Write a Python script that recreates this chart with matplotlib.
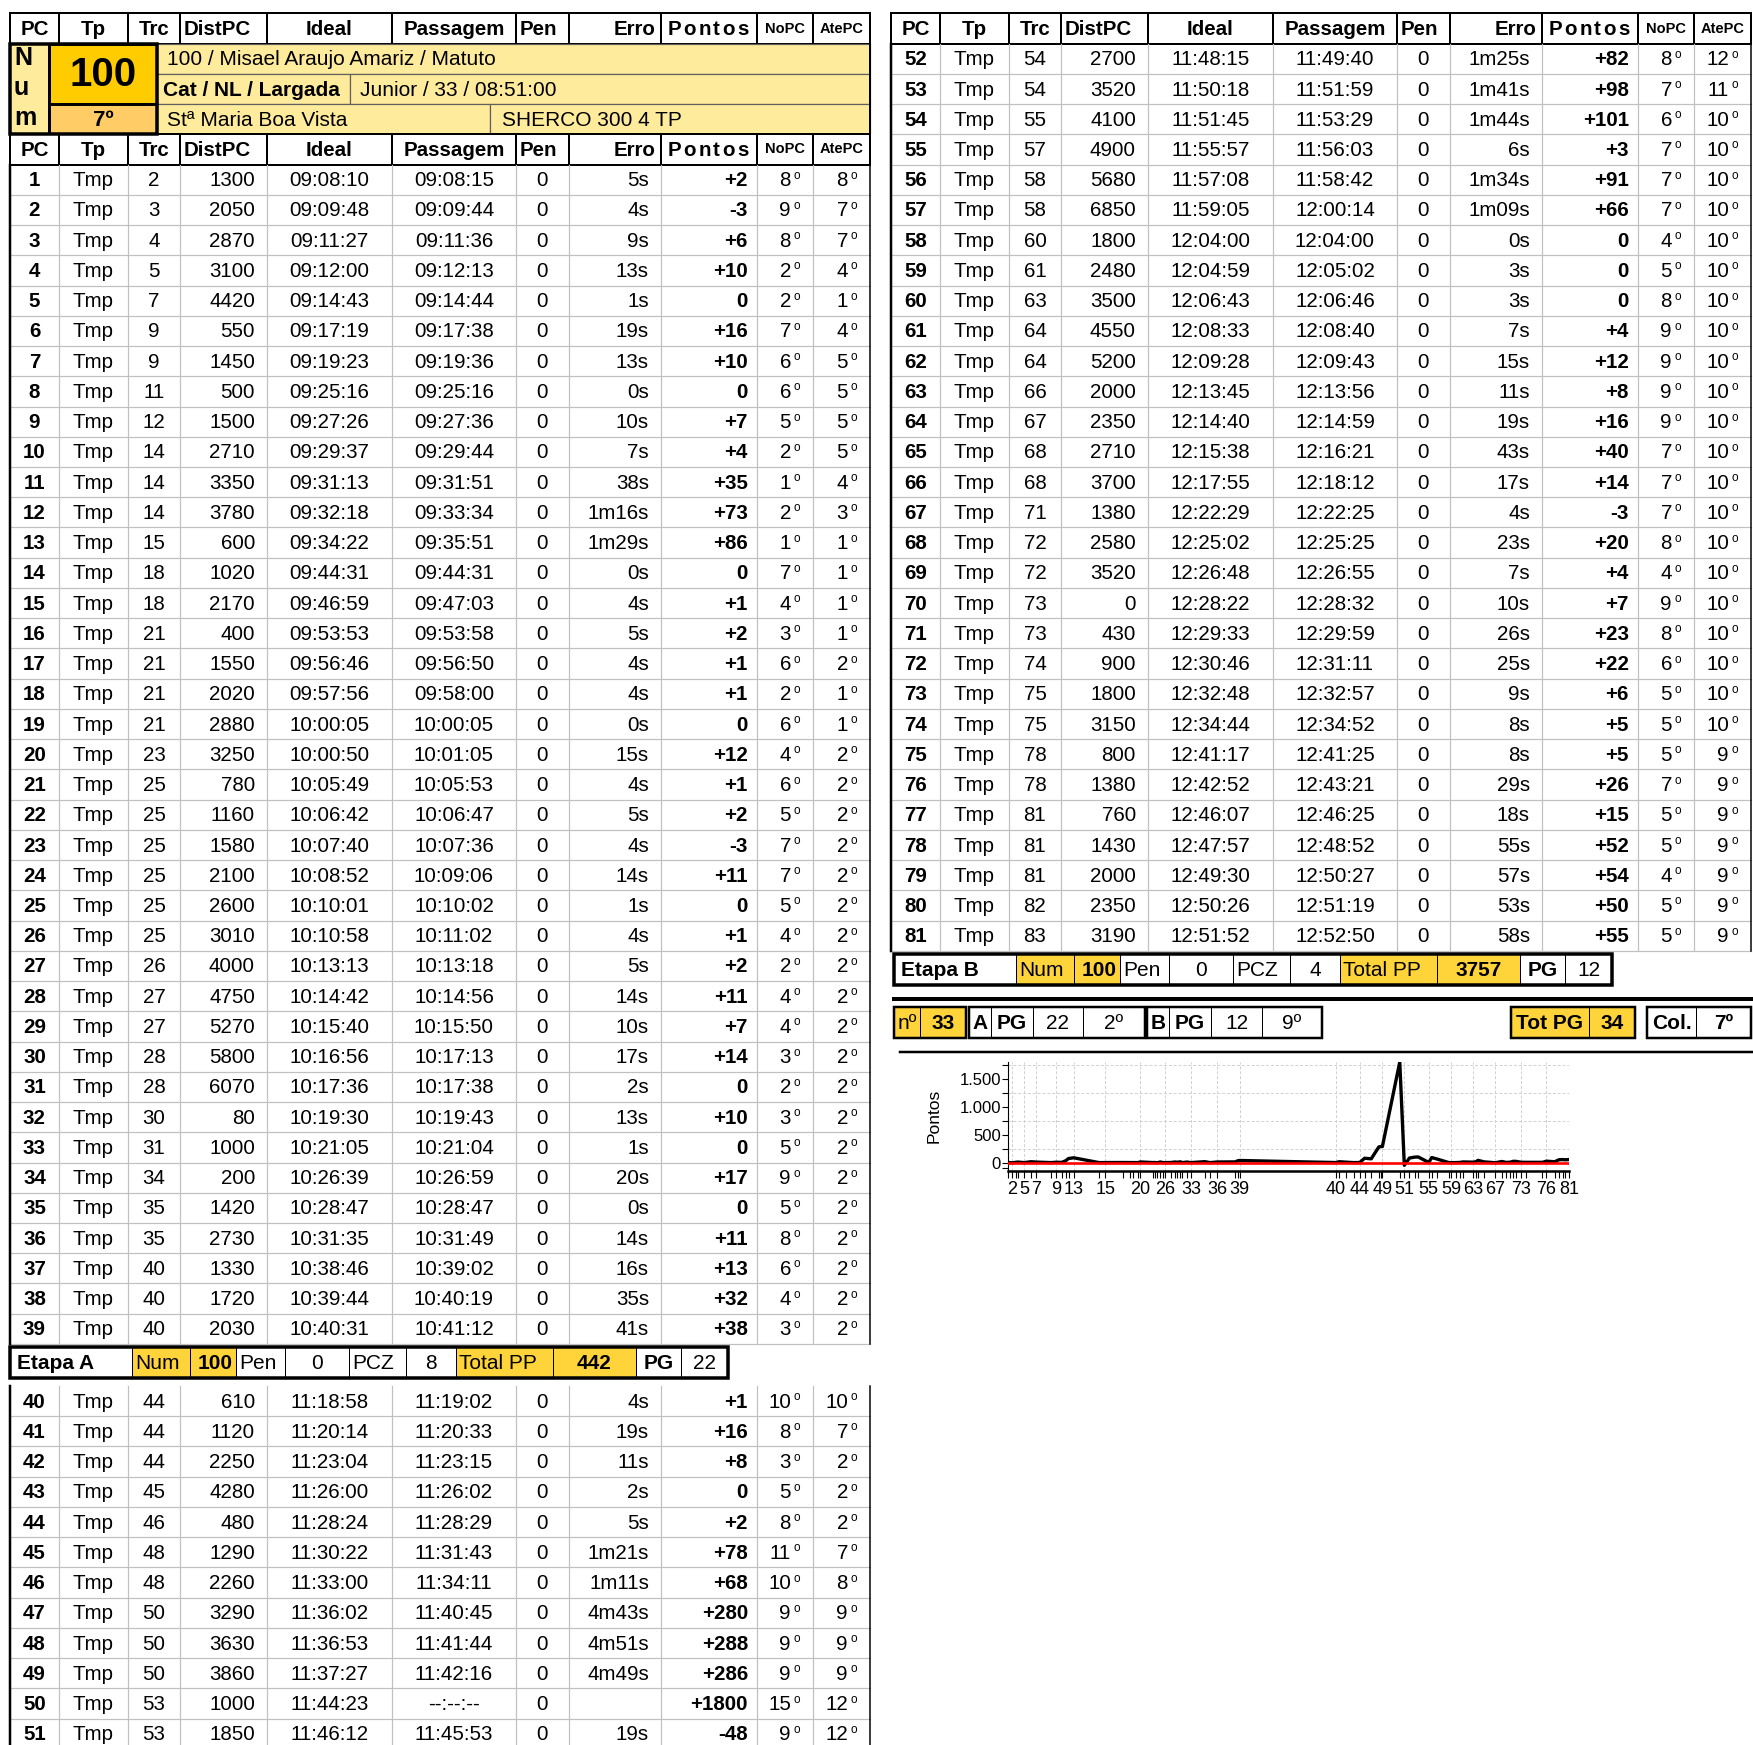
import matplotlib
matplotlib.use('Agg')
import matplotlib.pyplot as plt
from matplotlib.patches import Rectangle
from matplotlib.ticker import FixedLocator, FuncFormatter

plt.rcParams['font.family'] = ['Liberation Sans', 'DejaVu Sans']

# ---- data (read from the sheet) ----
pc = list(range(1, 82))
trc = [2, 3, 4, 5, 7, 9, 9, 11, 12, 14, 14, 14, 15, 18, 18, 21, 21, 21, 21, 23,
       25, 25, 25, 25, 25, 25, 26, 27, 27, 28, 28, 30, 31, 34, 35, 35, 40, 40, 40,
       44, 44, 44, 45, 46, 48, 48, 50, 50, 50, 53, 53,
       54, 54, 55, 57, 58, 58, 60, 61, 63, 64, 64, 66, 67, 68, 68, 71, 72, 72, 73,
       73, 74, 75, 75, 78, 78, 81, 81, 81, 82, 83]
dist = [1300, 2050, 2870, 3100, 4420, 550, 1450, 500, 1500, 2710, 3350, 3780, 600,
        1020, 2170, 400, 1550, 2020, 2880, 3250, 780, 1160, 1580, 2100, 2600, 3010,
        4000, 4750, 5270, 5800, 6070, 80, 1000, 200, 1420, 2730, 1330, 1720, 2030,
        610, 1120, 2250, 4280, 480, 1290, 2260, 3290, 3630, 3860, 1000, 1850,
        2700, 3520, 4100, 4900, 5680, 6850, 1800, 2480, 3500, 4550, 5200, 2000, 2350,
        2710, 3700, 1380, 2580, 3520, 0, 430, 900, 1800, 3150, 800, 1380, 760, 1430,
        2000, 2350, 3190]
ideal = ['09:08:10', '09:09:48', '09:11:27', '09:12:00', '09:14:43', '09:17:19',
         '09:19:23', '09:25:16', '09:27:26', '09:29:37', '09:31:13', '09:32:18',
         '09:34:22', '09:44:31', '09:46:59', '09:53:53', '09:56:46', '09:57:56',
         '10:00:05', '10:00:50', '10:05:49', '10:06:42', '10:07:40', '10:08:52',
         '10:10:01', '10:10:58', '10:13:13', '10:14:42', '10:15:40', '10:16:56',
         '10:17:36', '10:19:30', '10:21:05', '10:26:39', '10:28:47', '10:31:35',
         '10:38:46', '10:39:44', '10:40:31',
         '11:18:58', '11:20:14', '11:23:04', '11:26:00', '11:28:24', '11:30:22',
         '11:33:00', '11:36:02', '11:36:53', '11:37:27', '11:44:23', '11:46:12',
         '11:48:15', '11:50:18', '11:51:45', '11:55:57', '11:57:08', '11:59:05',
         '12:04:00', '12:04:59', '12:06:43', '12:08:33', '12:09:28', '12:13:45',
         '12:14:40', '12:15:38', '12:17:55', '12:22:29', '12:25:02', '12:26:48',
         '12:28:22', '12:29:33', '12:30:46', '12:32:48', '12:34:44', '12:41:17',
         '12:42:52', '12:46:07', '12:47:57', '12:49:30', '12:50:26', '12:51:52']
passagem = ['09:08:15', '09:09:44', '09:11:36', '09:12:13', '09:14:44', '09:17:38',
            '09:19:36', '09:25:16', '09:27:36', '09:29:44', '09:31:51', '09:33:34',
            '09:35:51', '09:44:31', '09:47:03', '09:53:58', '09:56:50', '09:58:00',
            '10:00:05', '10:01:05', '10:05:53', '10:06:47', '10:07:36', '10:09:06',
            '10:10:02', '10:11:02', '10:13:18', '10:14:56', '10:15:50', '10:17:13',
            '10:17:38', '10:19:43', '10:21:04', '10:26:59', '10:28:47', '10:31:49',
            '10:39:02', '10:40:19', '10:41:12',
            '11:19:02', '11:20:33', '11:23:15', '11:26:02', '11:28:29', '11:31:43',
            '11:34:11', '11:40:45', '11:41:44', '11:42:16', '--:--:--', '11:45:53',
            '11:49:40', '11:51:59', '11:53:29', '11:56:03', '11:58:42', '12:00:14',
            '12:04:00', '12:05:02', '12:06:46', '12:08:40', '12:09:43', '12:13:56',
            '12:14:59', '12:16:21', '12:18:12', '12:22:25', '12:25:25', '12:26:55',
            '12:28:32', '12:29:59', '12:31:11', '12:32:57', '12:34:52', '12:41:25',
            '12:43:21', '12:46:25', '12:48:52', '12:50:27', '12:51:19', '12:52:50']
pen = [0] * 81
erro = ['5s', '4s', '9s', '13s', '1s', '19s', '13s', '0s', '10s', '7s', '38s',
        '1m16s', '1m29s', '0s', '4s', '5s', '4s', '4s', '0s', '15s', '4s', '5s',
        '4s', '14s', '1s', '4s', '5s', '14s', '10s', '17s', '2s', '13s', '1s',
        '20s', '0s', '14s', '16s', '35s', '41s',
        '4s', '19s', '11s', '2s', '5s', '1m21s', '1m11s', '4m43s', '4m51s',
        '4m49s', '', '19s',
        '1m25s', '1m41s', '1m44s', '6s', '1m34s', '1m09s', '0s', '3s', '3s', '7s',
        '15s', '11s', '19s', '43s', '17s', '4s', '23s', '7s', '10s', '26s', '25s',
        '9s', '8s', '8s', '29s', '18s', '55s', '57s', '53s', '58s']
pontos = [2, -3, 6, 10, 0, 16, 10, 0, 7, 4, 35, 73, 86, 0, 1, 2, 1, 1, 0, 12,
          1, 2, -3, 11, 0, 1, 2, 11, 7, 14, 0, 10, 0, 17, 0, 11, 13, 32, 38,
          1, 16, 8, 0, 2, 78, 68, 280, 288, 286, 1800, -48,
          82, 98, 101, 3, 91, 66, 0, 0, 0, 4, 12, 8, 16, 40, 14, -3, 20, 4, 7,
          23, 22, 6, 5, 5, 26, 15, 52, 54, 50, 55]
nopc = [8, 9, 8, 2, 2, 7, 6, 6, 5, 2, 1, 2, 1, 7, 4, 3, 6, 2, 6, 4, 6, 5, 7, 7,
        5, 4, 2, 4, 4, 3, 2, 3, 5, 9, 5, 8, 6, 4, 3,
        10, 8, 3, 5, 8, 11, 10, 9, 9, 9, 15, 9,
        8, 7, 6, 7, 7, 7, 4, 5, 8, 9, 9, 9, 9, 7, 7, 7, 8, 4, 9, 8, 6, 5, 5, 5,
        7, 5, 5, 4, 5, 5]
atepc = [8, 7, 7, 4, 1, 4, 5, 5, 5, 5, 4, 3, 1, 1, 1, 1, 2, 1, 1, 2, 2, 2, 2, 2,
         2, 2, 2, 2, 2, 2, 2, 2, 2, 2, 2, 2, 2, 2, 2,
         10, 7, 2, 2, 2, 7, 8, 9, 9, 9, 12, 12,
         12, 11, 10, 10, 10, 10, 10, 10, 10, 10, 10, 10, 10, 10, 10, 10, 10, 10,
         10, 10, 10, 10, 10, 9, 9, 9, 9, 9, 9, 9]

headers = ['PC', 'Tp', 'Trc', 'DistPC', 'Ideal', 'Passagem', 'Pen', 'Erro',
           'Pontos', 'NoPC', 'AtePC']
etapa_a = ['Etapa A', 'Num', '100', 'Pen', '0', 'PCZ', '8', 'Total PP', '442', 'PG', '22']
etapa_b = ['Etapa B', 'Num', '100', 'Pen', '0', 'PCZ', '4', 'Total PP', '3757', 'PG', '12']
chart_labels = [2, 5, 7, 9, 13, 15, 20, 26, 33, 36, 39, 40, 44, 49, 51, 55, 59,
                63, 67, 73, 76, 81]

# ---- layout ----
W, H = 1753, 1745
GOLD = '#FFCC00'
ORANGE = '#FFCC66'
PALE = '#FFEB9C'
YEL = '#FFD43B'
GRID = '#C0C0C0'
col_w = [49, 69, 52, 87, 125, 124, 53, 92, 96, 56, 57]
RH = 30.24
TOP = 13.4
FS = 14.8

fig = plt.figure(figsize=(W / 100, H / 100), dpi=100)
ax = fig.add_axes([0, 0, 1, 1])
ax.set_xlim(0, W)
ax.set_ylim(H, 0)
ax.axis('off')


def lw(px):
    return px * 0.72


def edges(x0):
    e = [x0]
    for w in col_w:
        e.append(e[-1] + w)
    return e


def txt(x, y, s, ha='center', size=FS, bold=False, **kw):
    ax.text(x, y, s, ha=ha, va='center', fontsize=size,
            fontweight='bold' if bold else 'normal', **kw)


def box(x, y, w, h, fc='white', ec='black', px=1.5, z=1):
    ax.add_patch(Rectangle((x, y), w, h, fc=fc, ec=ec, lw=lw(px), zorder=z))


def draw_header(x0, y0):
    e = edges(x0)
    yc = y0 + RH / 2 + 1
    for i, h in enumerate(headers):
        box(e[i], y0, e[i + 1] - e[i], RH, px=2)
        if h in ('NoPC', 'AtePC'):
            txt((e[i] + e[i + 1]) / 2, yc - 1, h, size=10.5, bold=True)
        elif h == 'Pontos':
            # letter-spaced header
            adv = {'P': .667, 'o': .611, 'n': .611, 't': .333, 's': .556}
            em = FS * 100 / 72
            sp = 2.2
            tot = sum(adv[c] * em for c in h) + sp * (len(h) - 1)
            x = (e[i] + e[i + 1]) / 2 - tot / 2 - 1
            for c in h:
                txt(x, yc, c, ha='left', bold=True)
                x += adv[c] * em + sp
        elif h in ('DistPC', 'Pen'):
            txt(e[i] + 4, yc, h, ha='left', bold=True)
        elif h == 'Erro':
            txt(e[i + 1] - 5, yc, h, ha='right', bold=True)
        else:
            txt((e[i] + e[i + 1]) / 2, yc, h, bold=True)


def draw_rows(x0, y0, idx):
    e = edges(x0)
    n = len(idx)
    for j, i in enumerate(idx):
        yt = y0 + j * RH
        yc = yt + RH / 2 + 1
        ax.plot([e[0], e[-1]], [yt + RH, yt + RH], color=GRID, lw=lw(1.2), zorder=1)
        txt((e[0] + e[1]) / 2, yc, str(pc[i]), bold=True)
        txt((e[1] + e[2]) / 2, yc, 'Tmp')
        txt((e[2] + e[3]) / 2, yc, str(trc[i]))
        txt(e[4] - 12, yc, str(dist[i]), ha='right')
        txt((e[4] + e[5]) / 2, yc, ideal[i])
        txt((e[5] + e[6]) / 2, yc, passagem[i])
        txt((e[6] + e[7]) / 2, yc, str(pen[i]))
        txt(e[8] - 12, yc, erro[i], ha='right')
        p = pontos[i]
        txt(e[9] - 9, yc, f'{p:+d}' if p != 0 else '0', ha='right', bold=True)
        for k, v in ((10, nopc[i]), (11, atepc[i])):
            txt(e[k] - 22, yc, str(v), ha='right')
            txt(e[k] - 19, yc - 5, 'o', ha='left', size=8.5)
    yb = y0 + n * RH
    for k in range(1, len(e) - 1):
        ax.plot([e[k], e[k]], [y0, yb], color=GRID, lw=lw(1.2), zorder=1)
    ax.plot([e[0], e[0]], [y0, yb], color='black', lw=lw(2.5), zorder=2)
    ax.plot([e[-1], e[-1]], [y0, yb], color='black', lw=lw(1.5), zorder=2)


def etapa_bar(x0, y0, vals):
    offs = [0, 122, 180, 226, 275, 339, 396, 446, 543, 626, 671, 718]
    fills = ['white', YEL, YEL, 'white', 'white', 'white', 'white', YEL, YEL,
             'white', 'white']
    h = 31
    for i, v in enumerate(vals):
        xa, xb = x0 + offs[i], x0 + offs[i + 1]
        box(xa, y0, xb - xa, h, fc=fills[i], ec='black', px=1)
        yc = y0 + h / 2 + 1
        if i == 0:
            txt(xa + 7, yc, v, ha='left', bold=True, size=15)
        elif i in (1, 3, 5, 7):
            txt(xa + 3, yc, v, ha='left', size=15)
        elif i == 2:
            txt(xb - 3, yc, v, ha='right', bold=True, size=15)
        else:
            txt((xa + xb) / 2, yc, v, bold=(i in (8, 9)), size=15)
    box(x0, y0, offs[-1], h, fc='none', px=3.5, z=3)


def group(cells, y0, h=31):
    for (xa, xb, s, fc, b) in cells:
        box(xa, y0, xb - xa, h, fc=fc, px=1)
        txt((xa + xb) / 2, y0 + h / 2 + 1, s, bold=b, size=15)
    box(cells[0][0], y0, cells[-1][1] - cells[0][0], h, fc='none', px=2.5, z=3)


# ---- left table ----
L = 10
el = edges(L)
draw_header(L, TOP)
# Num block
y1 = TOP + RH
box(L, y1, 39, 3 * RH, fc=PALE, px=1)
for k, c in enumerate('Num'):
    txt(L + 4, y1 + RH * (k + 0.5) - 1, c, ha='left', bold=True, size=18)
box(L + 39, y1, 108, 2 * RH, fc=GOLD, px=3)
txt(L + 39 + 54, y1 + RH + 1, '100', bold=True, size=29)
box(L + 39, y1 + 2 * RH, 108, RH, fc=ORANGE, px=3)
txt(L + 39 + 54, y1 + 2.5 * RH + 1, '7º', bold=True, size=16)
box(L, y1, 147, 3 * RH, fc='none', px=3.5, z=3)
nx0, nx1 = L + 147, el[-1]
box(nx0, y1, nx1 - nx0, RH, fc=PALE, ec='#606060', px=1.2)
txt(nx0 + 10, y1 + RH / 2 + 1, '100 / Misael Araujo Amariz / Matuto', ha='left', size=15)
box(nx0, y1 + RH, 193, RH, fc=PALE, ec='#606060', px=1.2)
txt(nx0 + 6, y1 + 1.5 * RH + 1, 'Cat / NL / Largada', ha='left', bold=True, size=15)
box(nx0 + 193, y1 + RH, nx1 - nx0 - 193, RH, fc=PALE, ec='#606060', px=1.2)
txt(nx0 + 203, y1 + 1.5 * RH + 1, 'Junior / 33 / 08:51:00', ha='left', size=15)
box(nx0, y1 + 2 * RH, 333, RH, fc=PALE, ec='#606060', px=1.2)
txt(nx0 + 10, y1 + 2.5 * RH + 1, 'Stª Maria Boa Vista', ha='left', size=15)
box(nx0 + 333, y1 + 2 * RH, nx1 - nx0 - 333, RH, fc=PALE, ec='#606060', px=1.2)
txt(nx0 + 345, y1 + 2.5 * RH + 1, 'SHERCO 300 4 TP', ha='left', size=15)
ax.plot([nx1, nx1], [y1, y1 + 3 * RH], color='black', lw=lw(2), zorder=3)

draw_header(L, TOP + 4 * RH)
draw_rows(L, TOP + 5 * RH, list(range(0, 39)))
etapa_bar(L, 1347, etapa_a)
draw_rows(L, 1386, list(range(39, 51)))

# ---- right table ----
R = 891
draw_header(R, TOP)
draw_rows(R, TOP + RH, list(range(51, 81)))
etapa_bar(894, 954, etapa_b)

ax.plot([894, W], [999, 999], color='black', lw=lw(4), zorder=3)
group([(894, 920, 'nº', YEL, False), (920, 966, '33', YEL, True)], 1007)
group([(969, 991, 'A', 'white', True), (991, 1033, 'PG', 'white', True),
       (1033, 1083, '22', 'white', False), (1083, 1145, '2º', 'white', False)], 1007)
group([(1147, 1169, 'B', 'white', True), (1169, 1211, 'PG', 'white', True),
       (1211, 1262, '12', 'white', False), (1262, 1322, '9º', 'white', False)], 1007)
group([(1511, 1589, 'Tot PG', YEL, True), (1589, 1635, '34', YEL, True)], 1007)
group([(1647, 1696, 'Col.', 'white', True), (1696, 1751, '7º', 'white', True)], 1007)
ax.plot([900, W], [1052, 1052], color='black', lw=lw(2.5), zorder=3)

# ---- chart ----
def tmin(s):
    h, m, sec = s.split(':')
    return int(h) * 60 + int(m) + int(sec) / 60


tx = [tmin(s) for s in ideal]
cx0, cx1, cy0, cy1 = 1008, 1569, 1062, 1171
ax2 = fig.add_axes([cx0 / W, 1 - cy1 / H, (cx1 - cx0) / W, (cy1 - cy0) / H])
ax2.set_xlim(tx[0], tx[-1])
ax2.set_ylim(-150, 1800)
for g in (250, 750, 1250, 1750):
    ax2.axhline(g, color='#D0D0D0', lw=0.7, ls=(0, (3, 2)), zorder=0)
major = [tx[p - 1] for p in chart_labels]
for g in major:
    ax2.axvline(g, color='#D0D0D0', lw=0.7, ls=(0, (3, 2)), zorder=0)
ax2.plot(tx, pontos, color='black', lw=2.4, zorder=2)
ax2.axhline(0, color='red', lw=1.9, zorder=3)
ax2.xaxis.set_major_locator(FixedLocator(major))
ax2.xaxis.set_minor_locator(FixedLocator(tx))
ax2.set_xticklabels([str(p) for p in chart_labels], fontsize=13)
ax2.tick_params(axis='x', which='both', length=5, width=0.8, pad=2)
ax2.yaxis.set_major_locator(FixedLocator([0, 500, 1000, 1500]))
ax2.yaxis.set_minor_locator(FixedLocator([250, 750, 1250, 1750, -100]))
ax2.yaxis.set_major_formatter(FuncFormatter(lambda v, p: f'{int(v):,}'.replace(',', '.')))
ax2.tick_params(axis='y', which='both', length=4, width=0.8, labelsize=12, pad=1)
for s in ('top', 'right'):
    ax2.spines[s].set_visible(False)
ax2.spines['left'].set_linewidth(0.8)
ax2.spines['bottom'].set_linewidth(1.8)
ax2.set_ylabel('Pontos', fontsize=12.5)
ax2.yaxis.set_label_coords((942 - cx0) / (cx1 - cx0), (cy1 - 1116) / (cy1 - cy0))

fig.savefig('out.png', dpi=100)
